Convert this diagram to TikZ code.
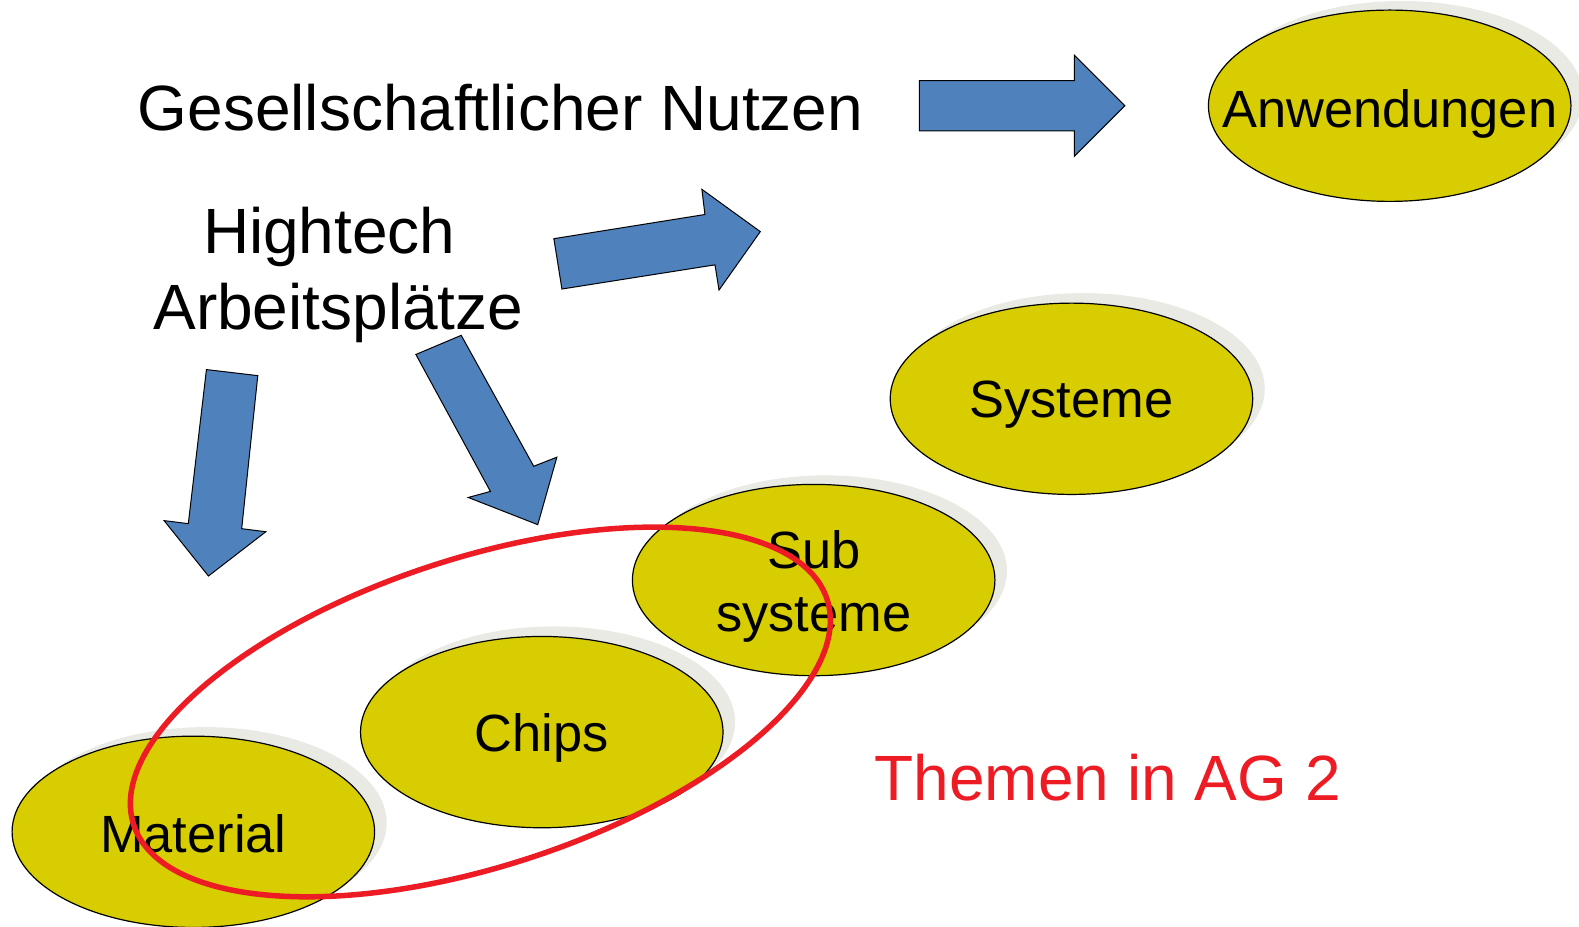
\documentclass[tikz,border=0pt]{standalone}
\usepackage{fontspec}
\setmainfont{Liberation Sans}
\usetikzlibrary{shapes.geometric}
\definecolor{ellfill}{RGB}{215,205,0}
\definecolor{arrowblue}{RGB}{79,129,189}
\definecolor{themered}{RGB}{237,28,36}
\definecolor{shadowgray}{RGB}{234,234,228}
\begin{document}
\begin{tikzpicture}[x=1.00702pt,y=-1.00702pt,
  ell/.style={ellipse, draw=black, line width=1.2pt, fill=ellfill, minimum width=362.5pt, minimum height=191.3pt, inner sep=0pt},
  shad/.style={ellipse, fill=shadowgray, minimum width=362.5pt, minimum height=191.3pt, inner sep=0pt},
  barrow/.style={draw=black, line width=1pt, fill=arrowblue, line join=miter},
  bigtext/.style={font=\fontsize{64}{70}\selectfont, anchor=base, inner sep=0pt},
  midtext/.style={font=\fontsize{52.4}{60}\selectfont, anchor=base, inner sep=0pt},
  groupline/.style={draw=themered, line width=5.5pt}]
\useasboundingbox (0,0) rectangle (1568,920);

% shadows
\node[shad] (anwS) at (1392,96) {};
\node[shad] (sysS) at (1076,386) {};
\node[shad] (subS) at (820,567) {};
\node[shad] (chiS) at (550,717) {};
\node[shad] (matS) at (204,817) {};

% ellipses
\node[ell] (anw) at (1380,105) {};
\node[ell] (sys) at (1064,396) {};
\node[ell] (sub) at (808,576) {};
\node[ell] (chi) at (538,727) {};
\node[ell] (mat) at (192,826) {};

% block arrows
\draw[barrow] (913,80) -- (1067,80) -- (1067,55) -- (1117,105) -- (1067,155) -- (1067,130) -- (913,130) -- cycle;
\draw[barrow] (550,237) -- (700,213) -- (697,188) -- (755,230) -- (714,288) -- (710,263) -- (558,287) -- cycle;
\draw[barrow] (413,352) -- (487,488) -- (465,494) -- (534,521) -- (553,454) -- (530,463) -- (458,333) -- cycle;
\draw[barrow] (205,367) -- (256,373) -- (240,525) -- (264,528) -- (207,572) -- (163,517) -- (187,520) -- cycle;

% texts
\node[bigtext] (gn) at (497,130) {Gesellschaftlicher Nutzen};
\node[bigtext] (ht) at (327,252) {Hightech};
\node[bigtext] (ap) at (336,327) {Arbeitsplätze};
\node[midtext] (anwT) at (1380,127) {Anwendungen};
\node[midtext] (sysT) at (1064,415) {Systeme};
\node[midtext] (subT1) at (808,565) {Sub};
\node[midtext] (subT2) at (808,627) {systeme};
\node[midtext] (chiT) at (538,746) {Chips};
\node[midtext] (matT) at (192,847) {Material};
\node[bigtext, text=themered] (ag) at (1100,795) {Themen in AG 2};

% group ellipse
\draw[groupline, rotate around={18:(477,707)}] (477,707) ellipse [x radius=362, y radius=153];
\end{tikzpicture}
\end{document}
